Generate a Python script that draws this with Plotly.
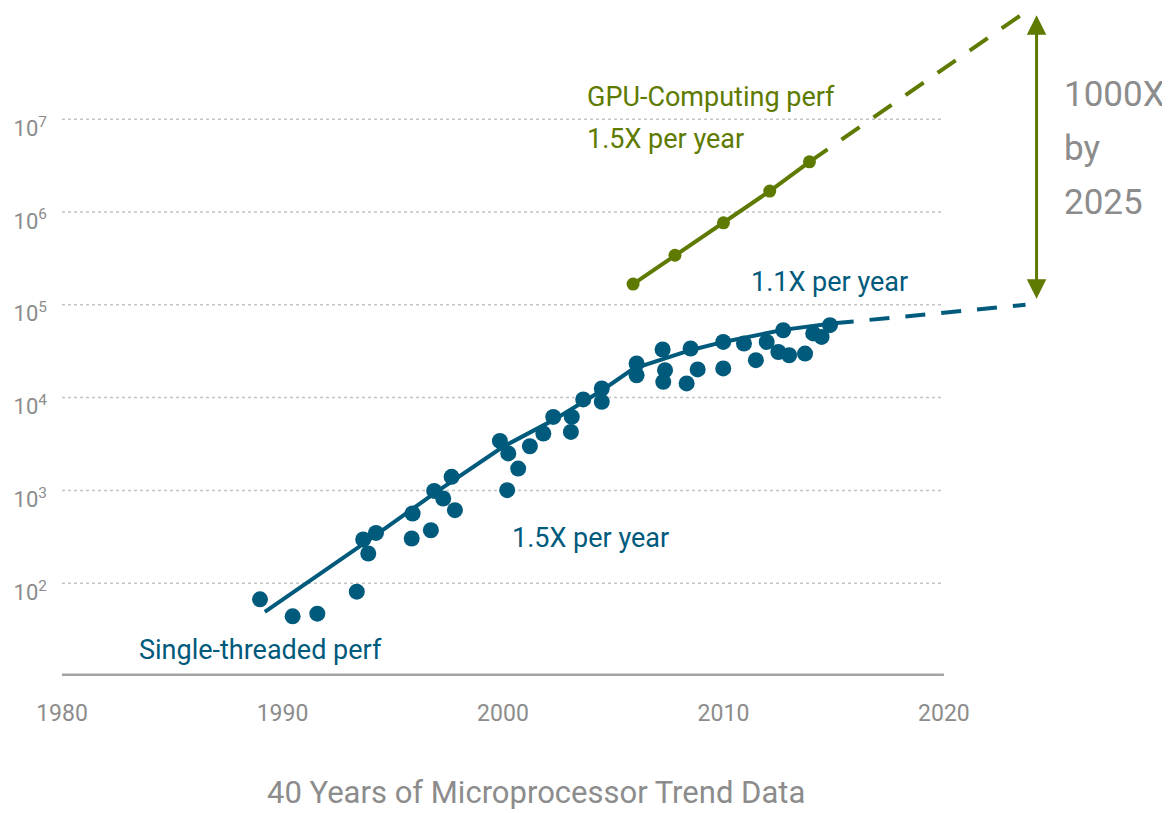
import plotly.graph_objects as go

# ---------------- data ----------------
single_years = [1988.98, 1990.46, 1991.58, 1993.37, 1993.66, 1993.89, 1994.24, 1995.86, 1995.90,
                1996.73, 1996.88, 1997.29, 1997.67, 1997.82, 1999.86, 2000.24, 2000.69, 2000.19,
                2001.22, 2001.83, 2002.28, 2003.12, 2003.08, 2003.64, 2004.48, 2004.48, 2006.06,
                2006.06, 2007.24, 2007.35, 2007.27, 2008.33, 2008.83, 2008.51, 2009.99, 2009.99,
                2010.93, 2011.47, 2011.96, 2012.49, 2012.98, 2013.70, 2012.71, 2014.07, 2014.45,
                2014.83]
single_perf = [67, 44, 47, 81, 296, 209, 348, 303, 564,
               372, 988, 818, 1400, 612, 3410, 2500, 1720, 1005,
               2990, 4100, 6190, 6190, 4270, 9550, 12540, 9000, 23300,
               17400, 33000, 19700, 14800, 14200, 20100, 33800, 39800, 20600,
               38300, 25300, 39800, 31000, 28600, 29800, 53200, 49100, 45100,
               60300]

trend_years = [1989.2, 1993.7, 1996.9, 2000.0, 2002.3, 2004.5, 2005.9, 2008.5, 2010.0, 2012.7, 2015.0]
trend_perf = [49, 269, 933, 2950, 5750, 12000, 20400, 32400, 39800, 53700, 63100]
trend_proj_years = [2015.0, 2023.7]
trend_proj_perf = [63100, 100000]

gpu_years = [2005.9, 2007.8, 2010.0, 2012.1, 2013.9]
gpu_perf = [1.67e5, 3.42e5, 7.64e5, 1.68e6, 3.47e6]
gpu_proj_years = [2013.9, 2023.6]
gpu_proj_perf = [3.47e6, 1.38e8]

arrow_year = 2024.2
arrow_low_log = 5.05
arrow_high_log = 8.12

x_ticks = [1980, 1990, 2000, 2010, 2020]
y_ticks = [1e2, 1e3, 1e4, 1e5, 1e6, 1e7]
y_ticktext = ["10<sup>2</sup>", "10<sup>3</sup>", "10<sup>4</sup>", "10<sup>5</sup>",
              "10<sup>6</sup>", "10<sup>7</sup>"]

# ---------------- style ----------------
FONT = "Roboto"
BLUE = "#005a7c"
GREEN = "#5e7a00"
GRAY = "#8c8c8c"

fig = go.Figure()

fig.add_trace(go.Scatter(x=trend_years, y=trend_perf, mode="lines",
                         line=dict(color=BLUE, width=4), hoverinfo="skip"))
fig.add_trace(go.Scatter(x=trend_proj_years, y=trend_proj_perf, mode="lines",
                         line=dict(color=BLUE, width=4, dash="20px,16px"), hoverinfo="skip"))
fig.add_trace(go.Scatter(x=single_years, y=single_perf, mode="markers",
                         marker=dict(color=BLUE, size=16, line=dict(width=0))))
fig.add_trace(go.Scatter(x=gpu_proj_years, y=gpu_proj_perf, mode="lines",
                         line=dict(color=GREEN, width=4, dash="22px,17px"), hoverinfo="skip"))
fig.add_trace(go.Scatter(x=gpu_years, y=gpu_perf, mode="lines+markers",
                         line=dict(color=GREEN, width=4),
                         marker=dict(color=GREEN, size=13)))

shapes = []
for v in y_ticks:
    shapes.append(dict(type="line", xref="x", yref="y", x0=1980, x1=2020, y0=v, y1=v,
                       line=dict(color="#c4c4c4", width=1.5, dash="dot"), layer="below"))
shapes.append(dict(type="line", xref="x", yref="y", x0=1980, x1=2020, y0=10, y1=10,
                   line=dict(color="#a3a3a3", width=5)))

annotations = [
    dict(x=arrow_year, y=arrow_high_log, ax=arrow_year, ay=arrow_low_log,
         xref="x", yref="y", axref="x", ayref="y",
         text="", showarrow=True, arrowside="end+start", arrowhead=2, arrowsize=1.3,
         arrowwidth=3, arrowcolor=GREEN),
    dict(x=2025.35, y=7.27, xref="x", yref="y", xanchor="left", yanchor="middle",
         text="1000X", showarrow=False, font=dict(family=FONT, size=35, color=GRAY)),
    dict(x=2025.35, y=6.68, xref="x", yref="y", xanchor="left", yanchor="middle",
         text="by", showarrow=False, font=dict(family=FONT, size=35, color=GRAY)),
    dict(x=2025.35, y=6.10, xref="x", yref="y", xanchor="left", yanchor="middle",
         text="2025", showarrow=False, font=dict(family=FONT, size=35, color=GRAY)),
    dict(x=1989.02, y=1.28, xref="x", yref="y", xanchor="center", yanchor="middle",
         text="Single-threaded perf", showarrow=False,
         font=dict(family=FONT, size=27, color=BLUE)),
    dict(x=2003.95, y=2.49, xref="x", yref="y", xanchor="center", yanchor="middle",
         text="1.5X per year", showarrow=False,
         font=dict(family=FONT, size=27, color=BLUE)),
    dict(x=2014.83, y=5.25, xref="x", yref="y", xanchor="center", yanchor="middle",
         text="1.1X per year", showarrow=False,
         font=dict(family=FONT, size=27, color=BLUE)),
    dict(x=2003.72, y=7.24, xref="x", yref="y", xanchor="left", yanchor="middle",
         text="GPU-Computing perf", showarrow=False,
         font=dict(family=FONT, size=27, color=GREEN)),
    dict(x=2003.72, y=6.79, xref="x", yref="y", xanchor="left", yanchor="middle",
         text="1.5X per year", showarrow=False,
         font=dict(family=FONT, size=27, color=GREEN)),
    dict(x=2001.5, y=-0.174, xref="x", yref="paper", xanchor="center", yanchor="middle",
         text="40 Years of Microprocessor Trend Data", showarrow=False,
         font=dict(family=FONT, size=31, color=GRAY)),
]

# page body has an 8px margin: figure origin sits at (8, 8) in the window
fig.update_layout(
    width=1162, height=805,
    margin=dict(l=54, r=6, t=0, b=137),
    paper_bgcolor="white", plot_bgcolor="white",
    showlegend=False,
    shapes=shapes,
    annotations=annotations,
    xaxis=dict(range=[1980, 2029.98], tickvals=x_ticks, showgrid=False, zeroline=False,
               showline=False, ticks="", ticklabelstandoff=21,
               tickfont=dict(family=FONT, size=23, color=GRAY)),
    yaxis=dict(type="log", range=[1, 8.198], tickvals=y_ticks, ticktext=y_ticktext,
               showgrid=False, zeroline=False, showline=False, ticks="",
               ticklabelstandoff=14, ticklabelshift=9,
               tickfont=dict(family=FONT, size=22, color=GRAY)),
)

fig.write_html("out.html")
